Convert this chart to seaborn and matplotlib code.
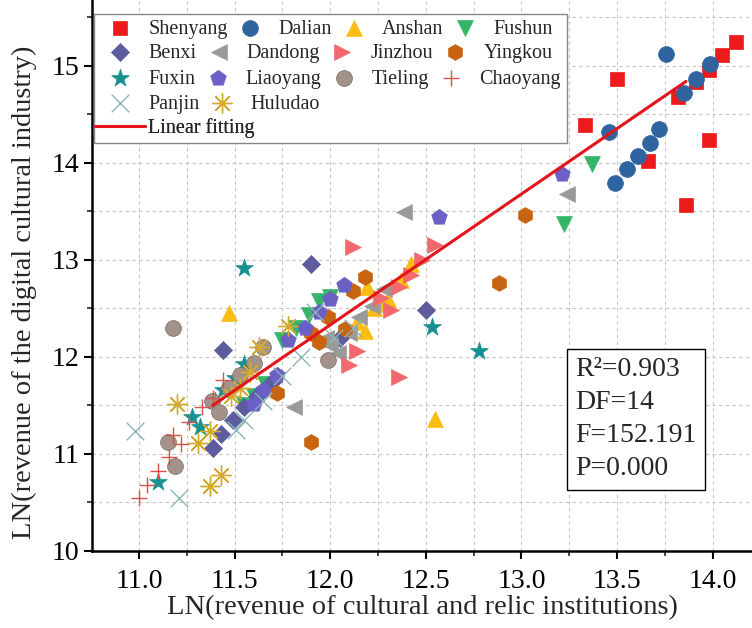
import matplotlib
matplotlib.use("Agg")
import matplotlib.pyplot as plt
from matplotlib.patches import Rectangle
from matplotlib.ticker import MultipleLocator, FormatStrFormatter
import seaborn as sns
import pandas as pd

# valores (LN receita instituições culturais, LN receita indústria cultural digital)
shenyang_x = [13.33, 13.50, 13.66, 13.82, 13.86, 13.91, 13.98, 13.98, 14.05, 14.12]
shenyang_y = [14.39, 14.87, 14.02, 14.68, 13.57, 14.83, 14.96, 14.24, 15.11, 15.25]
dalian_x = [13.46, 13.49, 13.55, 13.61, 13.67, 13.72, 13.755, 13.85, 13.91, 13.985]
dalian_y = [14.32, 13.79, 13.94, 14.07, 14.21, 14.35, 15.12, 14.72, 14.87, 15.02]
anshan_x = [11.47, 12.14, 12.18, 12.19, 12.23, 12.27, 12.30, 12.37, 12.42, 12.55]
anshan_y = [12.45, 12.36, 12.27, 12.72, 12.50, 12.55, 12.60, 12.79, 12.96, 11.36]
fushun_x = [11.55, 11.60, 11.66, 11.75, 11.82, 11.89, 11.94, 12.00, 13.22, 13.37]
fushun_y = [11.50, 11.60, 11.72, 12.17, 12.30, 12.43, 12.58, 12.62, 13.37, 13.99]
benxi_x = [11.39, 11.43, 11.44, 11.49, 11.55, 11.62, 11.70, 11.90, 12.05, 12.50]
benxi_y = [11.06, 11.21, 12.07, 11.35, 11.48, 11.60, 11.75, 12.96, 12.20, 12.48]
dandong_x = [11.81, 11.98, 12.00, 12.04, 12.10, 12.15, 12.22, 12.28, 12.385, 13.24]
dandong_y = [11.48, 12.20, 12.12, 12.04, 12.25, 12.41, 12.53, 12.70, 13.49, 13.68]
jinzhou_x = [12.10, 12.12, 12.14, 12.265, 12.32, 12.36, 12.36, 12.42, 12.48, 12.55]
jinzhou_y = [11.92, 13.13, 12.06, 12.61, 12.48, 12.72, 11.79, 12.85, 13.00, 13.15]
yingkou_x = [11.72, 11.90, 11.90, 11.94, 11.99, 12.08, 12.12, 12.18, 12.88, 13.02]
yingkou_y = [11.63, 11.12, 12.25, 12.15, 12.41, 12.29, 12.68, 12.82, 12.76, 13.46]
fuxin_x = [11.10, 11.28, 11.32, 11.40, 11.44, 11.50, 11.55, 11.55, 12.53, 12.78]
fuxin_y = [10.71, 11.38, 11.28, 11.55, 11.66, 11.78, 11.93, 12.92, 12.31, 12.06]
liaoyang_x = [11.60, 11.65, 11.72, 11.78, 11.87, 11.94, 12.00, 12.07, 12.57, 13.21]
liaoyang_y = [11.52, 11.66, 11.81, 12.17, 12.30, 12.46, 12.60, 12.74, 13.44, 13.89]
tieling_x = [11.15, 11.18, 11.19, 11.38, 11.42, 11.47, 11.53, 11.60, 11.65, 11.99]
tieling_y = [11.12, 12.30, 10.88, 11.55, 11.43, 11.68, 11.81, 11.94, 12.10, 11.97]
chaoyang_x = [11.00, 11.04, 11.10, 11.16, 11.18, 11.22, 11.26, 11.33, 11.39, 11.44]
chaoyang_y = [10.55, 10.68, 10.82, 10.97, 11.20, 11.10, 11.33, 11.48, 11.58, 11.76]
panjin_x = [10.98, 11.21, 11.51, 11.55, 11.65, 11.75, 11.85, 11.92, 12.02, 12.12]
panjin_y = [11.24, 10.55, 11.25, 11.35, 11.55, 11.80, 12.00, 12.46, 12.20, 12.30]
huludao_x = [11.20, 11.31, 11.37, 11.37, 11.43, 11.48, 11.53, 11.58, 11.63, 11.78]
huludao_y = [11.52, 11.11, 11.24, 10.67, 10.78, 11.60, 11.68, 11.85, 12.10, 12.32]

# reta ajustada
fit_intercept = -3.87
fit_slope = 1.35
fit_x = [11.385, 13.86]

stats_text = ["R\u00b2=0.903", "DF=14", "F=152.191", "P=0.000"]

# (nome, x, y, marcador, cor, tamanho)
series = [
    ("Shenyang", shenyang_x, shenyang_y, "s", "#ec1b1b", 95),
    ("Dalian", dalian_x, dalian_y, "o", "#2f64a0", 130),
    ("Anshan", anshan_x, anshan_y, "^", "#fbbd14", 130),
    ("Fushun", fushun_x, fushun_y, "v", "#34b567", 130),
    ("Benxi", benxi_x, benxi_y, "D", "#5c5c9e", 85),
    ("Dandong", dandong_x, dandong_y, "<", "#9a9a9a", 130),
    ("Jinzhou", jinzhou_x, jinzhou_y, ">", "#f2686c", 130),
    ("Yingkou", yingkou_x, yingkou_y, "h", "#c8640f", 130),
    ("Fuxin", fuxin_x, fuxin_y, "*", "#17918f", 180),
    ("Liaoyang", liaoyang_x, liaoyang_y, "p", "#6a60c6", 140),
    ("Tieling", tieling_x, tieling_y, "o", "#a3928a", 130),
    ("Chaoyang", chaoyang_x, chaoyang_y, "+", "#d8504c", 140),
    ("Panjin", panjin_x, panjin_y, "x", "#8bb5b5", 160),
    ("Huludao", huludao_x, huludao_y, (8, 2, 0), "#d6aa2c", 190),
]

legend_rows = [["Shenyang", "Dalian", "Anshan", "Fushun"],
               ["Benxi", "Dandong", "Jinzhou", "Yingkou"],
               ["Fuxin", "Liaoyang", "Tieling", "Chaoyang"],
               ["Panjin", "Huludao"],
               ["Linear fitting"]]

sns.set_style("ticks")
plt.rcParams["font.family"] = ["Liberation Serif", "DejaVu Serif"]

fig = plt.figure(figsize=(7.52, 6.28), dpi=100)
ax = fig.add_axes([92 / 752, 77 / 628, 660 / 752, 551 / 628])

handles = {}
for nome, xs, ys, mk, cor, tam in series:
    df = pd.DataFrame({"x": xs, "y": ys})
    filled = mk not in ("+", "x", (8, 2, 0))
    if filled:
        sns.scatterplot(data=df, x="x", y="y", marker=mk, color=cor, s=tam,
                        edgecolor=cor if nome != "Tieling" else "#7e6e66",
                        linewidth=0.5, ax=ax, zorder=3)
    else:
        sns.scatterplot(data=df, x="x", y="y", marker=mk, color=cor, s=tam,
                        linewidth=1.0, ax=ax, zorder=3)
    handles[nome] = ax.collections[-1]

fit_y = [fit_intercept + fit_slope * v for v in fit_x]
linha, = ax.plot(fit_x, fit_y, color="#e3141a", lw=2.2, zorder=4)
handles["Linear fitting"] = linha

ax.set_xlim(10.755, 14.205)
ax.set_ylim(10, 15.68)
ax.xaxis.set_major_locator(MultipleLocator(0.5))
ax.xaxis.set_minor_locator(MultipleLocator(0.25))
ax.xaxis.set_major_formatter(FormatStrFormatter("%.1f"))
ax.yaxis.set_major_locator(MultipleLocator(1))
ax.yaxis.set_minor_locator(MultipleLocator(0.5))
ax.grid(True, which="both", color="#c4c4c4", lw=0.8, ls=(0, (3, 3)))
ax.set_axisbelow(True)

for s in ("top", "right"):
    ax.spines[s].set_visible(False)
for s in ("left", "bottom"):
    ax.spines[s].set_linewidth(1.8)
    ax.spines[s].set_color("black")
ax.tick_params(which="major", direction="out", length=6, width=1.5, labelsize=20,
               colors="black")
ax.tick_params(axis="x", which="major", pad=7)
ax.tick_params(axis="y", which="major", pad=3)
ax.tick_params(which="minor", direction="out", length=3.5, width=1.2)

ax.set_xlabel("LN(revenue of cultural and relic institutions)", fontsize=20.5, labelpad=1)
ax.set_ylabel("LN(revenue of the digital cultural industry)", fontsize=20.5)
ax.yaxis.set_label_coords(-0.083, 0.47)

# legenda em linhas (cada linha é um legend sem moldura), moldura comum
leg_kw = dict(fontsize=14.5, handlelength=2.5, handletextpad=0.15, borderpad=0,
              borderaxespad=0, columnspacing=-0.15, frameon=False)
row_px = [29, 53, 79, 104, 128]
legs = []
for nomes, py in zip(legend_rows, row_px):
    lg = ax.legend([handles[n] for n in nomes], nomes, ncol=len(nomes), loc="center left",
                   bbox_to_anchor=(3 / 660, 1 - py / 551), **leg_kw)
    ax.add_artist(lg)
    legs.append(lg)

fig.canvas.draw()
inv = ax.transAxes.inverted()
boxes = [lg.get_window_extent().transformed(inv) for lg in legs]
x1 = max(b.x1 for b in boxes)
ax.add_patch(Rectangle((2 / 660, 1 - 143 / 551), x1 + 6 / 660 - 2 / 660, (143 - 14) / 551,
                       transform=ax.transAxes, fill=True, fc="white", ec="#888888",
                       lw=1.0, zorder=4.5))
for lg in legs:
    lg.set_zorder(5)

ax.text(13.28, 12.0, "\n".join(stats_text), fontsize=20, va="top", ha="left",
        linespacing=1.43, zorder=5,
        bbox=dict(boxstyle="square,pad=0.3", fc="white", ec="black", lw=1.0))

fig.savefig("out.png", dpi=100)
